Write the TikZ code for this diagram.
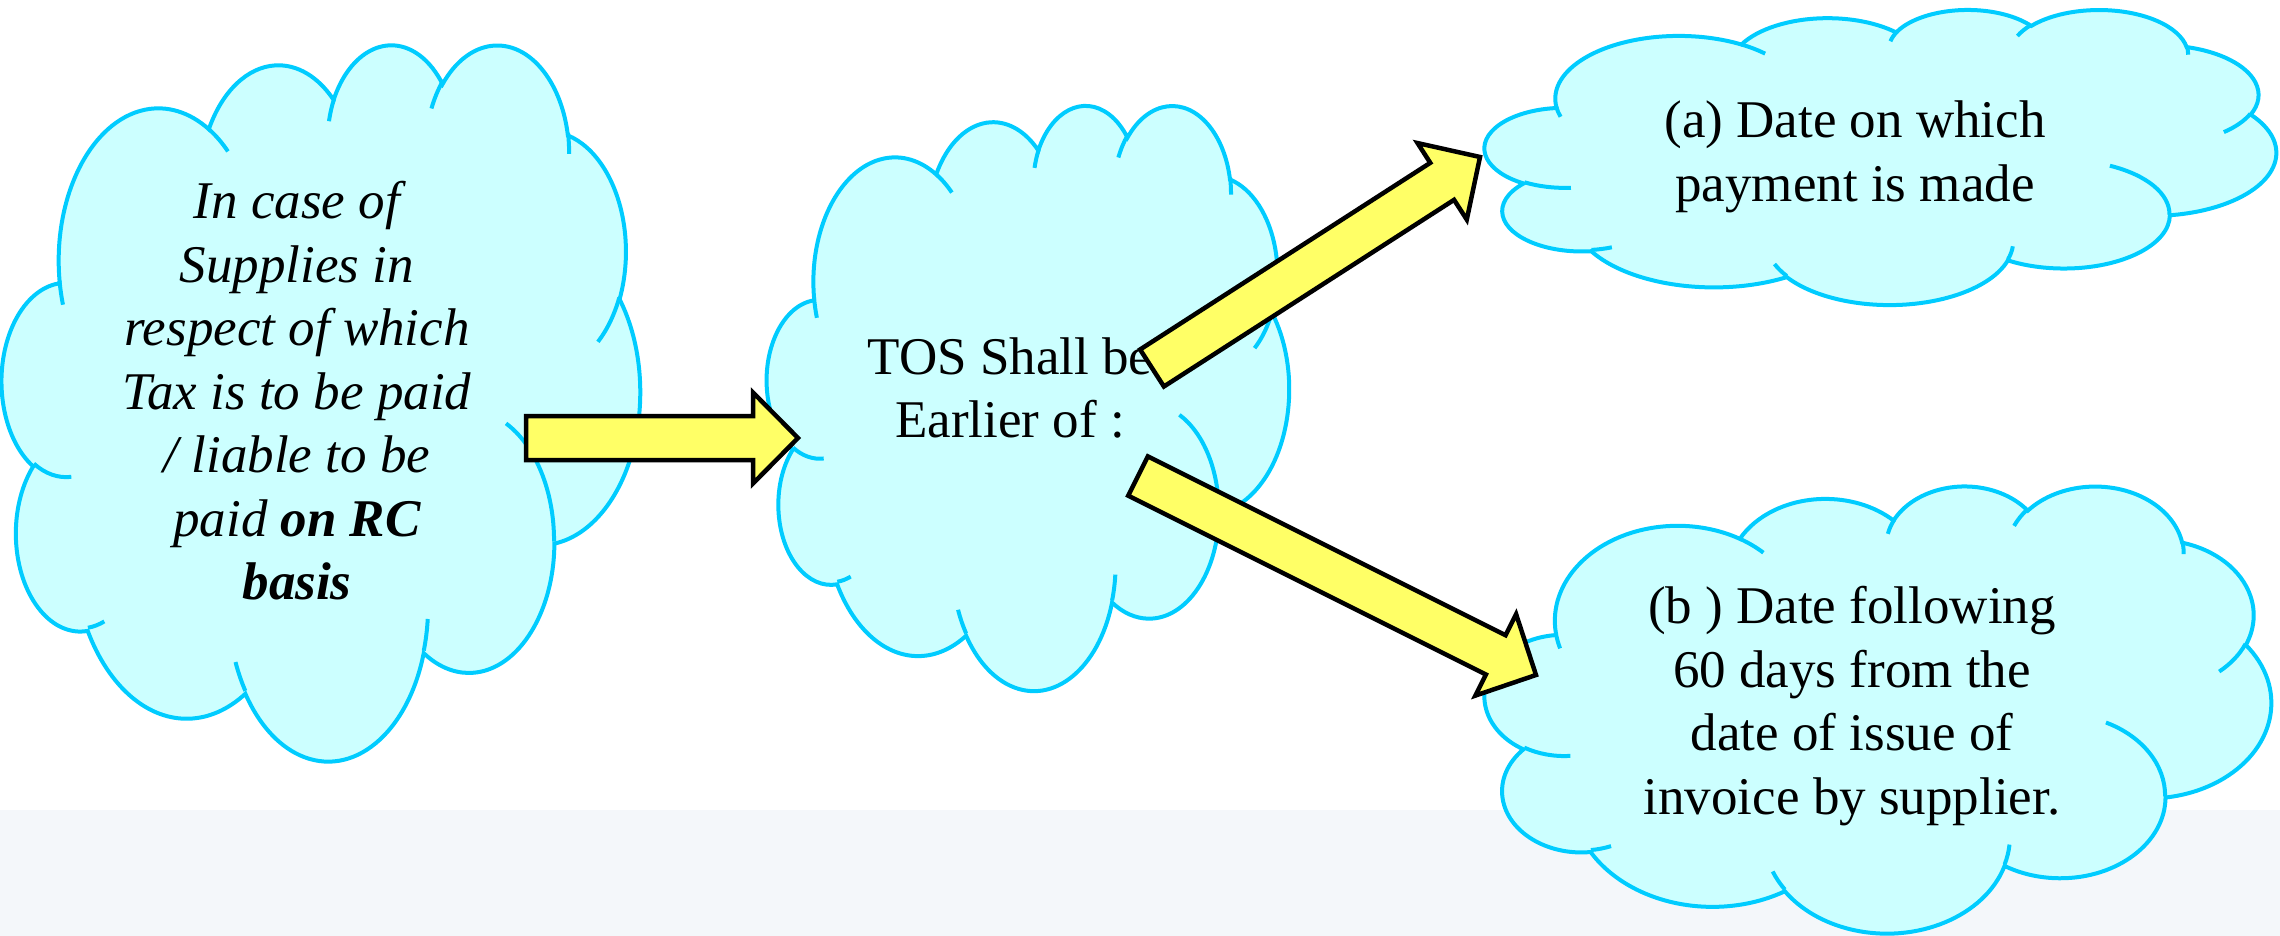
\documentclass[tikz,border=0pt]{standalone}
\usepackage{fontspec}
\setmainfont{Liberation Serif}
\usetikzlibrary{calc}

\definecolor{cloudfill}{HTML}{CCFFFF}
\definecolor{cloudedge}{HTML}{00CCFF}
\definecolor{arrowfill}{HTML}{FFFF66}
\definecolor{bandfill}{HTML}{F4F7FA}

% elliptical arc given by a "visual" start angle and sweep (angles clockwise, y down)
\newcommand\oarc[4]{arc[x radius=#1, y radius=#2, start angle={ovp(#1,#2,#3)}, delta angle={odl(#1,#2,#3,#4)}]}

% cloud outline in a 100 x 100 frame
\newcommand\cloudpath{(9.028,33.264)
 \oarc{15.632}{21.273}{-190.4875}{123.7805}
 \oarc{12.345}{16.822}{-144.1024}{89.9452}
 \oarc{10.104}{13.762}{-145.8079}{99.7230}
 \oarc{11.243}{15.266}{-130.9861}{117.2417}
 \oarc{12.345}{16.836}{-78.7089}{109.0269}
 \oarc{15.683}{21.343}{-46.2673}{130.2690}
 \oarc{13.391}{18.211}{0.6250}{114.0333}
 \oarc{15.630}{21.331}{22.4516}{115.1726}
 \oarc{17.870}{24.405}{66.2426}{75.7110}
 \oarc{10.093}{13.699}{-274.9421}{146.7356}
 \oarc{10.058}{13.762}{-246.8285}{152.5189} -- cycle}

% short creases between the puffs
\newcommand\cloudcreases{
 (10.863,60.595) \oarc{10.058}{13.762}{86.7420}{26.4295}
 (16.037,80.785) \oarc{10.093}{13.699}{73.6105}{11.4475}
 (38.144,90.486) \oarc{15.630}{21.331}{137.6242}{14.0811}
 (66.729,80.442) \oarc{15.630}{21.331}{6.4533}{15.9984}
 (79.002,53.134) \oarc{13.391}{18.211}{-70.2924}{70.9174}
 (96.755,35.542) \oarc{12.345}{16.836}{30.3180}{27.7515}
 (88.713,12.560) \oarc{11.243}{15.266}{-13.7443}{14.8589}
 (67.310,9.148) \oarc{11.243}{15.266}{-149.1815}{18.1954}
 (51.252,10.926) \oarc{10.104}{13.762}{-163.4943}{17.6864}
 (32.407,12.019) \oarc{15.632}{21.273}{-66.7070}{12.3194}
 (9.553,36.549) \oarc{15.632}{21.273}{157.6544}{11.8582}}

% cloud with top-left corner (#1,#2), width #3, height #4
\newcommand\cloudat[4]{%
 \begin{scope}[shift={(#1,#2)}, xscale=#3/100, yscale=#4/100]
  \filldraw[cloudbody] \cloudpath;
  \draw[cloudbody, fill=none] \cloudcreases;
 \end{scope}}

% block arrow from coordinate #1 (tail) to coordinate #2 (tip)
\newcommand\blockarrow[2]{%
 \coordinate (#1-hb) at ($(#2)!22.5pt!(#1)$);
 \draw[blockarrowstyle]
   ($(#1)!11pt!90:(#2)$) -- ($(#1-hb)!11pt!90:(#2)$) -- ($(#1-hb)!22.75pt!90:(#2)$)
   -- (#2)
   -- ($(#1-hb)!22.75pt!-90:(#2)$) -- ($(#1-hb)!11pt!-90:(#2)$) -- ($(#1)!11pt!-90:(#2)$) -- cycle;}

\begin{document}
\begin{tikzpicture}[x=0.5pt, y=-0.5pt,
  declare function={
    ovp(\a,\b,\v)=atan2(\a*sin(\v),\b*cos(\v));
    odl(\a,\b,\s,\w)=ovp(\a,\b,\s+\w)-ovp(\a,\b,\s)-360*round((ovp(\a,\b,\s+\w)-ovp(\a,\b,\s)-\w)/360);
  },
  cloudbody/.style={draw=cloudedge, fill=cloudfill, line width=2pt},
  blockarrowstyle/.style={draw=black, fill=arrowfill, line width=2.25pt, line join=miter},
  cloudtext/.style={align=center, inner sep=0pt, font=\fontsize{26.5pt}{31.75pt}\selectfont}]

\useasboundingbox (0,0) rectangle (2280,936);
\fill[white] (0,0) rectangle (2280,936);
\fill[bandfill] (0,810) rectangle (2280,936);

% clouds
\cloudat{2}{43}{638}{716}
\cloudat{767}{104}{522}{585}
\cloudat{1485}{9}{791}{295}
\cloudat{1485}{485}{786}{447}

% texts
\node[cloudtext, font=\fontsize{26.5pt}{31.75pt}\selectfont\itshape] (case) at (297,391)
  {In case of\\Supplies in\\respect of which\\Tax is to be paid\\/ liable to be\\paid \textbf{on RC}\\\textbf{basis}};
\node[cloudtext] (tos) at (1010,388) {TOS Shall be\\Earlier of :};
\node[cloudtext] (opta) at (1855,157) {(a) Date on which\\payment is made};
\node[cloudtext] (optb) at (1852,706) {(b ) Date following\\60 days from the\\date of issue of\\invoice by supplier.};

% arrows
\coordinate (a1s) at (526,438);  \coordinate (a1e) at (798,438);
\coordinate (a2s) at (1152,368); \coordinate (a2e) at (1480,157);
\coordinate (a3s) at (1138,476); \coordinate (a3e) at (1536,675);
\blockarrow{a1s}{a1e}
\blockarrow{a2s}{a2e}
\blockarrow{a3s}{a3e}
\end{tikzpicture}
\end{document}
